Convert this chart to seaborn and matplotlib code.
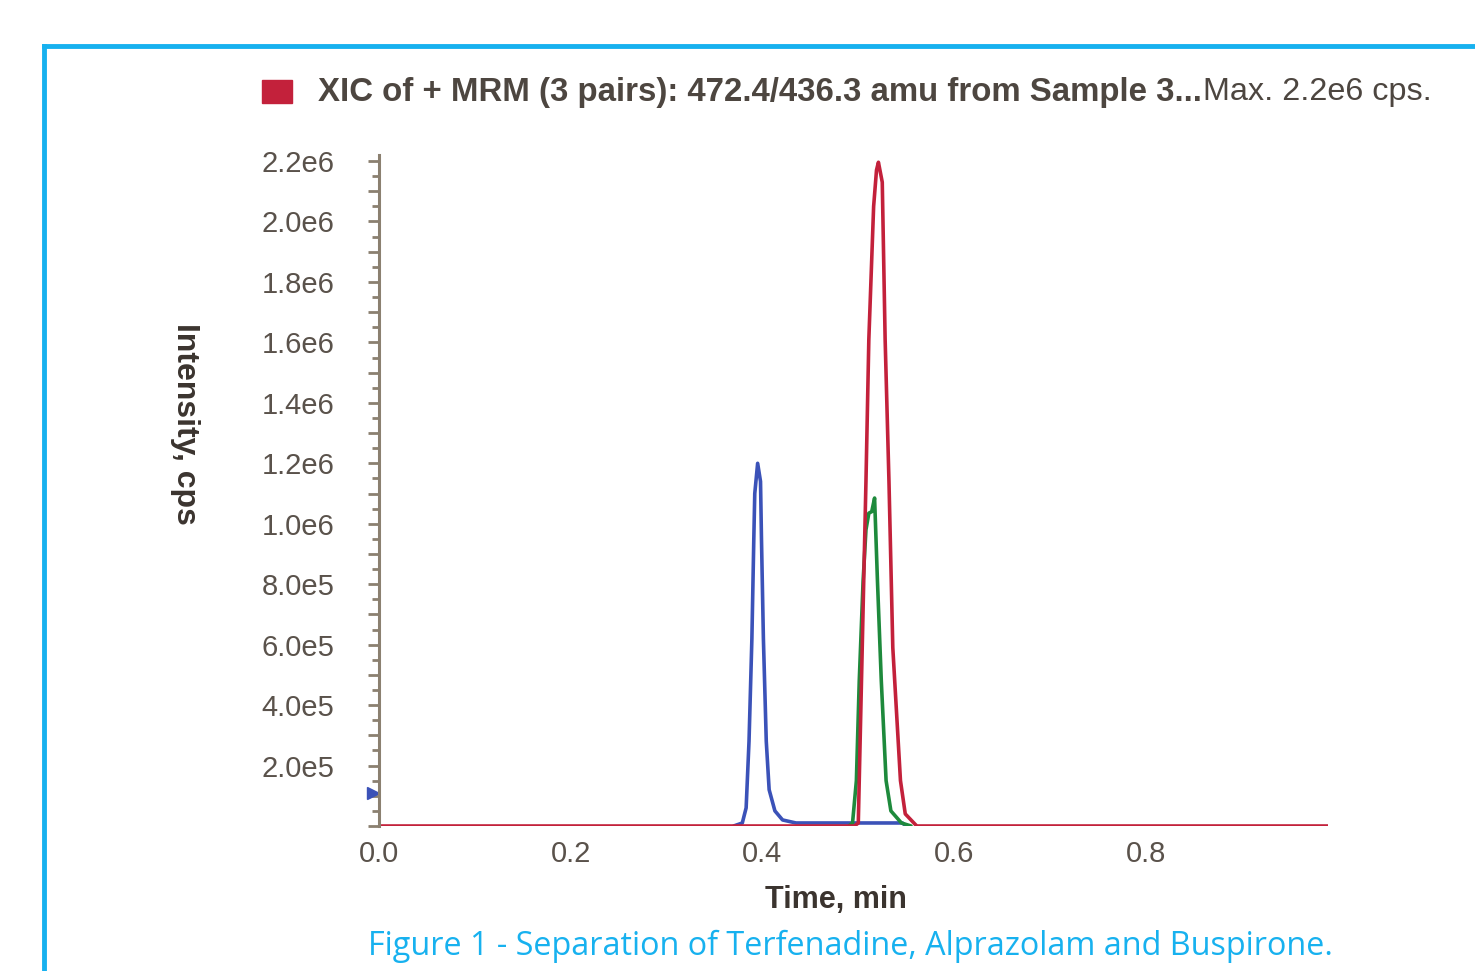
import numpy as np
import pandas as pd
import matplotlib
matplotlib.use("Agg")
import matplotlib.pyplot as plt
import seaborn as sns
from matplotlib.lines import Line2D
from matplotlib.patches import Rectangle
from matplotlib.ticker import FixedLocator, FuncFormatter, MultipleLocator

# traces (time in min, intensity in cps)
blue_t = [0.370, 0.379, 0.383, 0.386, 0.389, 0.391, 0.392, 0.395, 0.398,
          0.399, 0.401, 0.404, 0.407, 0.413, 0.421, 0.435, 0.546, 0.550]
blue_y = [0, 0.01e6, 0.06e6, 0.28e6, 0.62e6, 0.95e6, 1.10e6, 1.20e6, 1.14e6,
          0.95e6, 0.62e6, 0.28e6, 0.12e6, 0.05e6, 0.02e6, 0.01e6, 0.01e6, 0]

green_t = [0.490, 0.494, 0.498, 0.501, 0.505, 0.508, 0.511, 0.514, 0.517,
           0.520, 0.524, 0.529, 0.534, 0.545, 0.555]
green_y = [0, 0.01e6, 0.15e6, 0.48e6, 0.81e6, 0.98e6, 1.035e6, 1.04e6, 1.085e6,
           0.81e6, 0.48e6, 0.15e6, 0.05e6, 0.01e6, 0]

red_t = [0.000, 0.496, 0.500, 0.508, 0.511, 0.516, 0.519, 0.521, 0.525, 0.528,
         0.532, 0.536, 0.544, 0.549, 0.561, 0.990]
red_y = [0, 0, 0.01e6, 1.14e6, 1.61e6, 2.05e6, 2.17e6, 2.196e6, 2.13e6, 1.61e6,
         1.14e6, 0.59e6, 0.15e6, 0.04e6, 0, 0]

x_ticks = [0.0, 0.2, 0.4, 0.6, 0.8]
marker_level = 1.1e5

title_bold = "XIC of + MRM (3 pairs): 472.4/436.3 amu from Sample 3..."
title_rest = "Max. 2.2e6 cps."
caption = "Figure 1 - Separation of Terfenadine, Alprazolam and Buspirone."

BLUE = "#3b52b8"
GREEN = "#1e8a3c"
RED = "#c3213b"
CYAN = "#17b1ef"
SPINE = "#8b8070"
TXT = "#5a524b"
DARK = "#3b342f"

sns.set_theme(style="white")
plt.rcParams["font.family"] = ["Liberation Sans", "DejaVu Sans"]

W, H = 1475, 971
fig = plt.figure(figsize=(W / 100, H / 100), dpi=100)
ax = fig.add_axes([379 / W, 1 - 826 / H, (1328 - 379) / W, (826 - 155) / H])

for t, y, c in [(blue_t, blue_y, BLUE), (green_t, green_y, GREEN), (red_t, red_y, RED)]:
    df = pd.DataFrame({"t": t, "y": y})
    sns.lineplot(data=df, x="t", y="y", ax=ax, color=c, linewidth=2.6,
                 estimator=None, sort=False)

ax.set_xlim(0, 0.99)
ax.set_ylim(0, 2.22e6)

for s in ["top", "right", "bottom"]:
    ax.spines[s].set_visible(False)
ax.spines["left"].set_color(SPINE)
ax.spines["left"].set_linewidth(2.2)

ax.xaxis.set_major_locator(FixedLocator(x_ticks))
ax.xaxis.set_major_formatter(FuncFormatter(lambda v, p: f"{v:.1f}"))
ax.tick_params(axis="x", length=0, pad=10, labelsize=21, labelcolor=TXT)

ax.yaxis.set_major_locator(MultipleLocator(1e5))
ax.yaxis.set_minor_locator(MultipleLocator(5e4))


def ylab(v, p):
    k = int(round(v / 1e5))
    if k <= 0 or k % 2:
        return ""
    if v >= 1e6:
        return f"{v / 1e6:.1f}e6"
    return f"{v / 1e5:.1f}e5"


ax.yaxis.set_major_formatter(FuncFormatter(ylab))
ax.tick_params(axis="y", which="major", left=True, length=8, width=2, color=SPINE,
               pad=24, labelsize=21, labelcolor=TXT)
ax.tick_params(axis="y", which="minor", left=True, length=5, width=2, color=SPINE)

ax.set_xlabel("Time, min", fontsize=22, fontweight="bold", color=DARK, labelpad=12)
ax.xaxis.label.set_x((836 - 379) / (1328 - 379))
ax.set_ylabel("")
fig.text(185 / W, 1 - 424 / H, "Intensity, cps", rotation=270, fontsize=23,
         fontweight="bold", color=DARK, ha="center", va="center")

# small blue marker on the axis
ax.plot([-0.006], [marker_level], marker=">", color=BLUE, markersize=9,
        clip_on=False, linestyle="none")

# title line with red legend swatch
fig.add_artist(Rectangle((262 / W, 1 - 103 / H), 30 / W, 23 / H,
                         transform=fig.transFigure, color=RED))
t1 = fig.text(318 / W, 1 - 92 / H, title_bold, fontsize=23.8, fontweight="bold",
              color="#4d4640", ha="left", va="center")
ax.annotate(title_rest, xy=(1, 0.5), xycoords=t1, xytext=(1, 0),
            textcoords="offset points", fontsize=23.3, color="#4d4640",
            ha="left", va="center", annotation_clip=False)

fig.text(850 / W, 1 - 946 / H, caption, fontsize=23.3,
         family=["Open Sans", "DejaVu Sans"], color=CYAN,
         ha="center", va="center")

# cyan frame
fig.add_artist(Line2D([44 / W, 44 / W], [0, 1 - 46 / H], transform=fig.transFigure,
                      color=CYAN, linewidth=3.5, solid_capstyle="projecting"))
fig.add_artist(Line2D([44 / W, 1], [1 - 46 / H, 1 - 46 / H], transform=fig.transFigure,
                      color=CYAN, linewidth=3.5, solid_capstyle="projecting"))

fig.savefig("out.png", dpi=100)
